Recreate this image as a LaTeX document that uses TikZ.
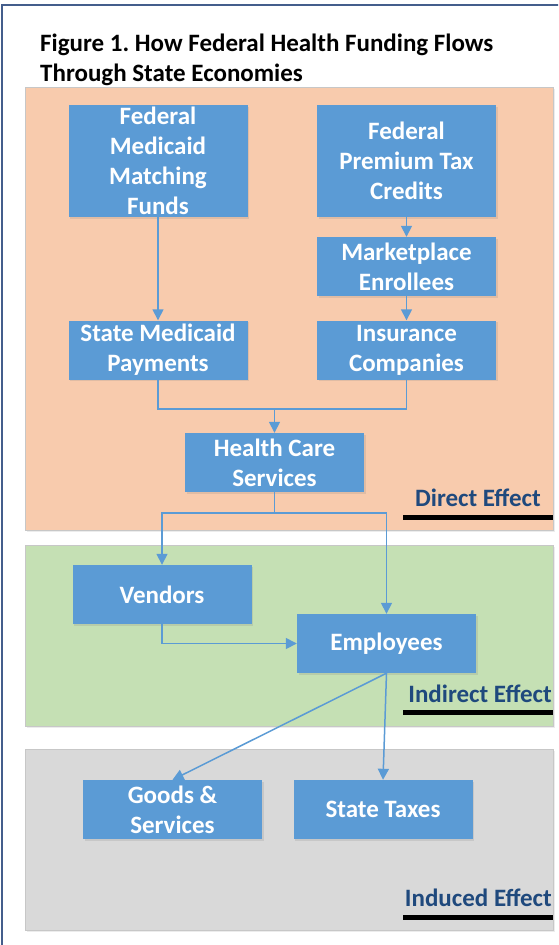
\documentclass[tikz,border=0pt]{standalone}
\usepackage{fontspec}
\setmainfont{Carlito}
\usetikzlibrary{arrows.meta, shadows}
\frenchspacing

\definecolor{boxblue}{RGB}{91,155,213}
\definecolor{directbg}{RGB}{248,203,173}
\definecolor{indirectbg}{RGB}{197,224,180}
\definecolor{inducedbg}{RGB}{217,217,217}
\definecolor{effectblue}{RGB}{31,73,125}
\definecolor{framecol}{RGB}{68,94,140}

\tikzset{
  fundbox/.style={fill=boxblue, text=white, align=center, inner sep=0pt,
    font=\bfseries\fontsize{25}{30}\selectfont,
    minimum width=179pt, minimum height=59pt,
    drop shadow={opacity=0.2, shadow xshift=1.5pt, shadow yshift=-1.5pt}},
  panel/.style={draw=black!22, line width=0.8pt,
    drop shadow={opacity=0.15, shadow xshift=2pt, shadow yshift=-2pt}},
  effect/.style={text=effectblue, font=\bfseries\fontsize{25}{28}\selectfont, inner sep=0pt},
  flow/.style={draw=boxblue, line width=1.5pt, -{Triangle[width=11pt, length=11pt]}},
  link/.style={draw=boxblue, line width=1.5pt},
}

\begin{document}
\begin{tikzpicture}[x=1pt, y=-1pt]
\useasboundingbox (0,0) rectangle (558,945);
\clip (0,0) rectangle (558,945);
% frame
\fill[white] (0,0) rectangle (558,945);
\draw[framecol, line width=1.2pt] (2,5) rectangle (565,952);
% title
\node[anchor=north west, align=left, inner sep=0pt,
  font=\bfseries\fontsize{25}{30}\selectfont] (title) at (40,34)
  {Figure 1. How Federal Health Funding Flows\\Through State Economies};
% panels
\path[panel, fill=directbg] (25,87) rectangle (553,530);
\path[panel, fill=indirectbg] (25,545) rectangle (553,726);
\path[panel, fill=inducedbg] (25,749) rectangle (553,930);
% boxes
\node[fundbox, minimum height=112pt] (fedmed) at (158,161) {Federal\\Medicaid\\Matching\\Funds};
\node[fundbox, minimum height=112pt] (fedptc) at (406.5,161) {Federal\\Premium Tax\\Credits};
\node[fundbox] (market) at (406.5,266.5) {Marketplace\\Enrollees};
\node[fundbox] (insure) at (406.5,350) {Insurance\\Companies};
\node[fundbox] (statemed) at (158,350) {State Medicaid\\Payments};
\node[fundbox] (hcs) at (274.5,462.5) {Health Care\\Services};
\node[fundbox] (vendors) at (162,594.5) {Vendors};
\node[fundbox] (employees) at (386.5,643.5) {Employees};
\node[fundbox] (goods) at (172.5,809.5) {Goods \&\\Services};
\node[fundbox] (taxes) at (383,809.5) {State Taxes};
% connectors
\coordinate (join) at (274.5,409);
\coordinate (split) at (274.5,513);
\draw[flow] (fedmed) -- (statemed);
\draw[flow] (fedptc) -- (market);
\draw[flow] (market) -- (insure);
\draw[link] (statemed.south) |- (join) -| (insure.south);
\draw[flow] (join) -- (hcs);
\draw[link] (hcs) -- (split);
\draw[flow] (split) -| (vendors);
\draw[flow] (split) -| (employees);
\draw[flow] (vendors.south) |- (employees.west);
\draw[flow] (employees.south) -- (goods.north);
\draw[flow] (employees.south) -- (taxes.north);
% effect labels
\node[effect, anchor=base east] (direct) at (541,506) {Direct Effect};
\node[effect, anchor=base east] (indirect) at (552,702) {Indirect Effect};
\node[effect, anchor=base east] (induced) at (552,906) {Induced Effect};
\draw[line width=5pt] (403,517) -- (553,517);
\draw[line width=5pt] (403,712) -- (553,712);
\draw[line width=5pt] (403,917) -- (553,917);
\end{tikzpicture}
\end{document}
